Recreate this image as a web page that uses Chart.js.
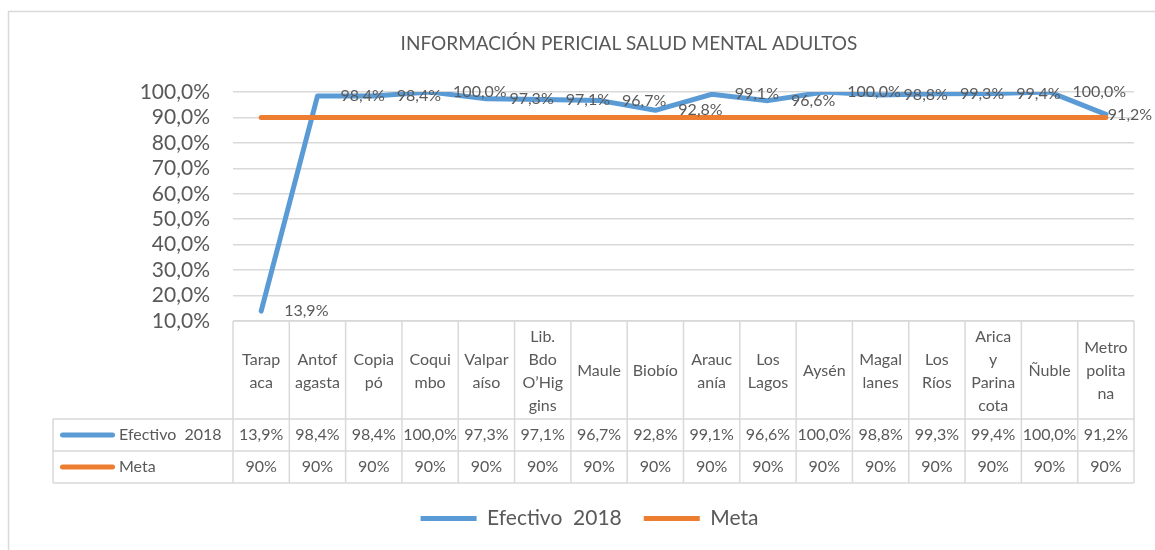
<!DOCTYPE html>
<html>
<head>
<meta charset="utf-8">
<script src="https://cdn.jsdelivr.net/npm/chart.js@4.4.0/dist/chart.umd.min.js"></script>
<style>
  html, body { margin: 0; padding: 0; background: #ffffff; }
  canvas { display: block; }
</style>
</head>
<body>
<canvas id="c" width="1155" height="550"></canvas>
<script>
// ---- Data ----
const categories = [
  ["Tarap", "aca"], ["Antof", "agasta"], ["Copia", "pó"], ["Coqui", "mbo"],
  ["Valpar", "aíso"], ["Lib.", "Bdo", "O’Hig", "gins"], ["Maule"], ["Biobío"],
  ["Arauc", "anía"], ["Los", "Lagos"], ["Aysén"], ["Magal", "lanes"],
  ["Los", "Ríos"], ["Arica", "y", "Parina", "cota"], ["Ñuble"], ["Metro", "polita", "na"]
];
const efectivo2018 = [13.9, 98.4, 98.4, 100.0, 97.3, 97.1, 96.7, 92.8, 99.1, 96.6, 100.0, 98.8, 99.3, 99.4, 100.0, 91.2];
const meta = [90, 90, 90, 90, 90, 90, 90, 90, 90, 90, 90, 90, 90, 90, 90, 90];
const seriesNames = ["Efectivo  2018", "Meta"];
const titleText = "INFORMACIÓN PERICIAL SALUD MENTAL ADULTOS";
const yMin = 10, yMax = 100, yStep = 10;

// ---- Styles ----
const FONT = "Lato, 'Open Sans', 'DejaVu Sans', sans-serif";
const TEXT = '#595959';
const GRID = '#d9d9d9';
const BLUE = '#5B9BD5';
const ORANGE = '#ED7D31';

const fmtPct1 = v => v.toFixed(1).replace('.', ',') + '%';
const fmtPct0 = v => v.toFixed(0) + '%';

// ---- Plugins ----
const frame = {
  id: 'frame',
  beforeDraw(chart) {
    const ctx = chart.ctx;
    ctx.save();
    ctx.fillStyle = '#ffffff';
    ctx.fillRect(0, 0, chart.width, chart.height);
    ctx.strokeStyle = GRID;
    ctx.lineWidth = 1.5;
    ctx.beginPath();
    ctx.moveTo(8.5, chart.height);
    ctx.lineTo(8.5, 11.5);
    ctx.lineTo(chart.width, 11.5);
    ctx.stroke();
    ctx.restore();
  }
};

const place = {
  id: 'place',
  afterLayout(chart) {
    if (chart.titleBlock) { chart.titleBlock.left = 103; chart.titleBlock.right = 1155; }
    if (chart.legend) { chart.legend.left = 24; chart.legend.right = 1155; }
  }
};

const pointLabels = {
  id: 'pointLabels',
  afterDatasetsDraw(chart) {
    const m = chart.getDatasetMeta(0);
    const vals = chart.data.datasets[0].data;
    const ctx = chart.ctx;
    ctx.save();
    ctx.font = '16px ' + FONT;
    ctx.fillStyle = TEXT;
    ctx.textAlign = 'left';
    ctx.textBaseline = 'middle';
    m.data.forEach((pt, i) => {
      const last = i === m.data.length - 1;
      ctx.fillText(fmtPct1(vals[i]), pt.x + (last ? 2 : 23), pt.y);
    });
    ctx.restore();
  }
};

const dataTable = {
  id: 'dataTable',
  afterDraw(chart) {
    const { ctx, chartArea: { left, right, bottom } } = chart;
    const xs = chart.scales.x;
    const n = categories.length;
    const colW = (right - left) / n;
    const headerH = 98, rowH = 32, tableLeft = 53;
    const headerTop = bottom, headerBot = bottom + headerH;
    const tableBot = headerBot + rowH * 2;
    ctx.save();
    ctx.strokeStyle = GRID;
    ctx.lineWidth = 1.5;
    ctx.beginPath();
    ctx.moveTo(left, headerTop); ctx.lineTo(right, headerTop);
    [headerBot, headerBot + rowH, tableBot].forEach(y => { ctx.moveTo(tableLeft, y); ctx.lineTo(right, y); });
    for (let i = 0; i <= n; i++) {
      const x = left + i * colW;
      ctx.moveTo(x, headerTop); ctx.lineTo(x, tableBot);
    }
    ctx.moveTo(tableLeft, headerBot); ctx.lineTo(tableLeft, tableBot);
    ctx.stroke();

    ctx.fillStyle = TEXT;
    ctx.font = '16px ' + FONT;
    ctx.textAlign = 'center';
    ctx.textBaseline = 'middle';
    const lh = 23;
    const cyH = (headerTop + headerBot) / 2 + 1;
    categories.forEach((lines, i) => {
      const cx = xs.getPixelForValue(i);
      lines.forEach((t, k) => ctx.fillText(t, cx, cyH + (k - (lines.length - 1) / 2) * lh));
    });

    const rows = [
      { vals: chart.data.datasets[0].data.map(fmtPct1), ds: chart.data.datasets[0] },
      { vals: chart.data.datasets[1].data.map(fmtPct0), ds: chart.data.datasets[1] }
    ];
    rows.forEach((row, r) => {
      const cy = headerBot + rowH * r + rowH / 2;
      ctx.textAlign = 'center';
      row.vals.forEach((t, i) => ctx.fillText(t, xs.getPixelForValue(i), cy));
      ctx.save();
      ctx.strokeStyle = row.ds.borderColor;
      ctx.lineWidth = 5;
      ctx.lineCap = 'round';
      ctx.beginPath();
      ctx.moveTo(62.5, cy); ctx.lineTo(112.5, cy);
      ctx.stroke();
      ctx.restore();
      ctx.textAlign = 'left';
      ctx.fillText(row.ds.label, 119, cy);
    });
    ctx.restore();
  }
};

Chart.defaults.font.family = FONT;
Chart.defaults.color = TEXT;

new Chart(document.getElementById('c'), {
  type: 'line',
  data: {
    labels: categories,
    datasets: [
      {
        label: seriesNames[0], data: efectivo2018, borderColor: BLUE, backgroundColor: BLUE,
        borderWidth: 5, pointRadius: 0, pointHoverRadius: 0, tension: 0,
        borderCapStyle: 'round', borderJoinStyle: 'round', order: 1
      },
      {
        label: seriesNames[1], data: meta, borderColor: ORANGE, backgroundColor: ORANGE,
        borderWidth: 5, pointRadius: 0, pointHoverRadius: 0, tension: 0,
        borderCapStyle: 'round', borderJoinStyle: 'round', order: 0
      }
    ]
  },
  options: {
    responsive: false,
    animation: false,
    devicePixelRatio: 1,
    events: [],
    layout: { padding: { top: 0, left: 0, right: 21, bottom: 11 } },
    scales: {
      x: {
        type: 'category',
        offset: true,
        ticks: { display: false },
        grid: { display: false },
        border: { display: false },
        afterFit(s) { s.height = 165; }
      },
      y: {
        min: yMin, max: yMax,
        ticks: {
          stepSize: yStep, padding: 23, color: TEXT, autoSkip: false,
          font: { size: 21 },
          callback: v => fmtPct1(v)
        },
        grid: { color: GRID, lineWidth: 1.5, drawTicks: false },
        border: { display: false },
        afterFit(s) { s.width = 233; }
      }
    },
    plugins: {
      title: {
        display: true, text: titleText, color: TEXT,
        font: { size: 19, weight: 'normal' },
        padding: { top: 32, bottom: 37.2 }
      },
      legend: {
        position: 'bottom',
        labels: {
          usePointStyle: true, pointStyle: 'line', pointStyleWidth: 56,
          font: { size: 21 }, color: TEXT, padding: 22,
          sort: (a, b) => a.datasetIndex - b.datasetIndex
        }
      },
      tooltip: { enabled: false }
    }
  },
  plugins: [frame, place, pointLabels, dataTable]
});
</script>
</body>
</html>
